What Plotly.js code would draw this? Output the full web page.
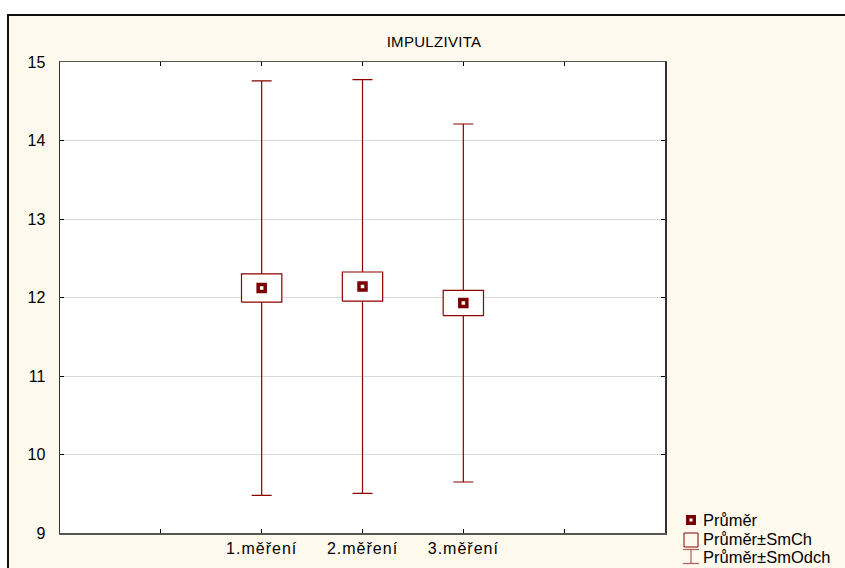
<!DOCTYPE html>
<html><head><meta charset="utf-8">
<script src="https://cdn.plot.ly/plotly-3.0.1.min.js"></script>
<style>
html,body{margin:0;padding:0;background:#fff}
#chart .xtick text{letter-spacing:1px}
#chart .gtitle{letter-spacing:0.3px}
</style>
</head><body>
<div id="chart" style="width:845px;height:568px"></div>
<script>
// ---- data ----
const categories = ['1.měření', '2.měření', '3.měření'];
const means = [12.12, 12.14, 11.93];
const stdErr = [0.18, 0.185, 0.16];
const stdDev = [2.64, 2.635, 2.28];
const yTicks = [9, 10, 11, 12, 13, 14, 15];
const legendLabels = ['Průměr', 'Průměr±SmCh', 'Průměr±SmOdch'];
const chartTitle = 'IMPULZIVITA';

// ---- layout helpers ----
const W = 845, H = 568, ML = 60, MR = 180, MT = 62, MB = 35;
const PW = W - ML - MR, PH = H - MT - MB;
const X = p => (p - ML) / PW;
const Y = p => (H - MB - p) / PH;
const RED = '#8B0000', DARK = '#7A0000', LIGHT = '#B35A5A';
const FONT = 'Liberation Sans, Arial, sans-serif';

const xPos = categories.map((c, i) => i + 2);
const nSlots = categories.length + 3;
const tickVals = Array.from({length: nSlots + 1}, (_, i) => i);
const tickText = tickVals.map(v => { const i = xPos.indexOf(v); return i >= 0 ? categories[i] : ''; });

// boxes (mean ± SE) as polygons
const bx = [], by = [];
const hw = 0.2;
xPos.forEach((x, i) => {
  const lo = means[i] - stdErr[i], hi = means[i] + stdErr[i];
  bx.push(x - hw, x + hw, x + hw, x - hw, x - hw, null);
  by.push(lo, lo, hi, hi, lo, null);
});

const traces = [
  { // whiskers mean ± SD
    x: xPos, y: means, type: 'scatter', mode: 'markers',
    marker: {size: 1, opacity: 0}, showlegend: false, hoverinfo: 'skip',
    error_y: {type: 'data', array: stdDev, symmetric: true, color: RED, thickness: 1.2, width: 10}
  },
  { // boxes
    x: bx, y: by, type: 'scatter', mode: 'lines', fill: 'toself', fillcolor: '#ffffff',
    line: {color: RED, width: 1.2}, showlegend: false, hoverinfo: 'skip'
  },
  { // mean markers
    x: xPos, y: means, type: 'scatter', mode: 'markers', showlegend: false,
    marker: {symbol: 'square', size: 7, color: '#ffffff', line: {color: DARK, width: 3.5}}
  }
];

const shapes = [
  {type: 'rect', xref: 'paper', yref: 'paper', layer: 'below', x0: X(-10), x1: X(W + 10), y0: Y(15), y1: Y(-10), fillcolor: '#ffffff', line: {width: 0}},
  {type: 'rect', xref: 'paper', yref: 'paper', layer: 'below', x0: X(-10), x1: X(8), y0: Y(H + 10), y1: Y(-10), fillcolor: '#ffffff', line: {width: 0}},
  {type: 'rect', xref: 'paper', yref: 'paper', layer: 'above', x0: X(8), x1: X(W + 10), y0: Y(H + 10), y1: Y(15), line: {color: '#111', width: 2}},
  // legend symbols
  {type: 'rect', xref: 'paper', yref: 'paper', x0: X(686), x1: X(696), y0: Y(525), y1: Y(515), fillcolor: DARK, line: {width: 0}},
  {type: 'rect', xref: 'paper', yref: 'paper', x0: X(689.5), x1: X(692.5), y0: Y(521.5), y1: Y(518.5), fillcolor: '#fff', line: {width: 0}},
  {type: 'rect', xref: 'paper', yref: 'paper', x0: X(684), x1: X(698), y0: Y(547), y1: Y(533), line: {color: RED, width: 1}},
  {type: 'line', xref: 'paper', yref: 'paper', x0: X(683), x1: X(699), y0: Y(549.5), y1: Y(549.5), line: {color: LIGHT, width: 1.2}},
  {type: 'line', xref: 'paper', yref: 'paper', x0: X(683), x1: X(699), y0: Y(563.5), y1: Y(563.5), line: {color: LIGHT, width: 1.2}},
  {type: 'line', xref: 'paper', yref: 'paper', x0: X(691), x1: X(691), y0: Y(549.5), y1: Y(563.5), line: {color: LIGHT, width: 1.2}}
];

const legendY = [520, 539, 557];
const annotations = legendLabels.map((t, i) => ({
  text: t, xref: 'paper', yref: 'paper', x: X(701), y: Y(legendY[i]),
  xanchor: 'left', yanchor: 'middle', showarrow: false,
  font: {family: FONT, size: 16.5, color: '#000'}
}));

const layout = {
  width: W, height: H,
  margin: {l: ML, r: MR, t: MT, b: MB, pad: 0},
  paper_bgcolor: '#FFF9EE', plot_bgcolor: '#ffffff',
  showlegend: false,
  title: {text: chartTitle, x: 434 / W, xref: 'container', xanchor: 'center', y: 1 - 42 / H, yref: 'container', yanchor: 'middle',
          font: {family: FONT, size: 15, color: '#000'}},
  xaxis: {range: [0, nSlots], tickmode: 'array', tickvals: tickVals, ticktext: tickText,
          ticks: 'inside', ticklen: 4, tickcolor: '#000', tickwidth: 1, mirror: 'ticks',
          showline: true, linecolor: '#555', linewidth: 1.5, showgrid: false, zeroline: false,
          tickfont: {family: FONT, size: 16, color: '#000'}},
  yaxis: {range: [9, 15], tickmode: 'array', tickvals: yTicks, ticktext: yTicks.map(String),
          ticks: 'inside', ticklen: 4, tickcolor: '#000', tickwidth: 1, mirror: 'ticks',
          showline: true, linecolor: '#333', linewidth: 1.5, showgrid: true, gridcolor: '#D9D9D9', gridwidth: 1,
          zeroline: false, ticklabelstandoff: 10,
          tickfont: {family: FONT, size: 16, color: '#000'}},
  shapes: shapes, annotations: annotations,
  font: {family: FONT}
};

Plotly.newPlot('chart', traces, layout, {displayModeBar: false, staticPlot: true});
</script>
</body></html>
